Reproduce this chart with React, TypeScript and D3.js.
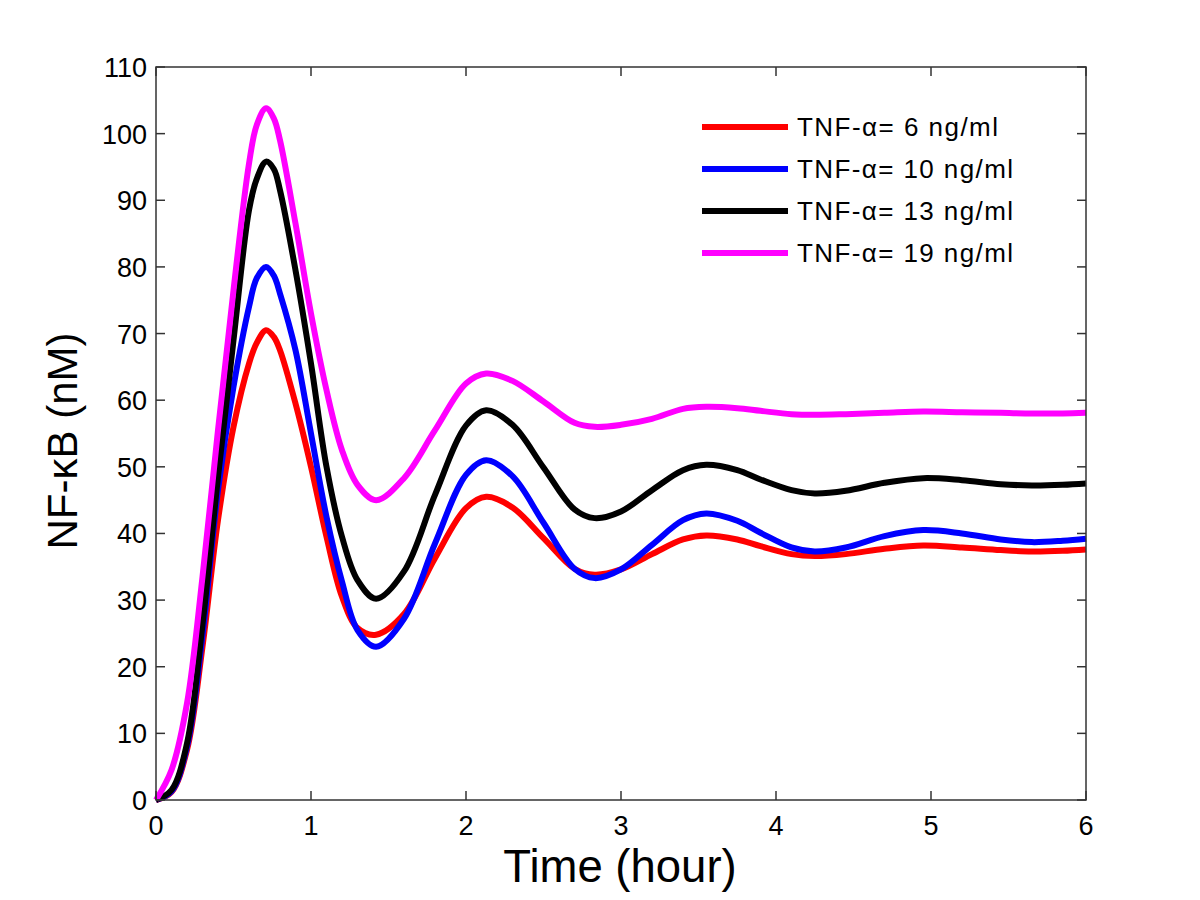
import * as d3 from 'd3'
import { useRef, useEffect } from 'react'

const W = 1200, H = 900
const M = { top: 67, right: 114, bottom: 100, left: 156 }

// time grid (hour), shared by all series
const times = [0, 0.1, 0.2, 0.3, 0.4, 0.5, 0.6, 0.65, 0.71, 0.76, 0.8, 0.9, 1.0, 1.1, 1.2, 1.3, 1.42,
  1.6, 1.8, 2.0, 2.13, 2.3, 2.5, 2.7, 2.83, 3.0, 3.2, 3.4, 3.55, 3.75, 3.9, 4.1, 4.25,
  4.45, 4.7, 4.95, 5.2, 5.45, 5.65, 5.85, 6.0]

// NF-kB (nM)
const tnf6 = [0, 1.2, 7.5, 23, 42, 56, 65.5, 68.6, 70.5, 69.5, 67.5, 59.5, 50, 39.5, 30.5, 25.8, 24.8,
  27.9, 36.3, 43.8, 45.5, 43.9, 39.3, 34.7, 33.8, 34.6, 36.9, 39.1, 39.7, 39.1, 38.1, 36.9, 36.6,
  36.9, 37.7, 38.2, 37.9, 37.5, 37.3, 37.4, 37.6]
const tnf10 = [0, 1.3, 8, 24.7, 46.5, 62, 74, 78.3, 80, 78.7, 76, 67.5, 55, 42.5, 32.8, 25.5, 23,
  27.2, 38.5, 48.8, 51, 48.6, 41.6, 34.7, 33.3, 34.6, 38.3, 42, 43, 41.9, 40.1, 37.9, 37.3,
  37.9, 39.6, 40.5, 40.0, 39.1, 38.7, 38.9, 39.2]
const tnf13 = [0, 1.5, 8.5, 26.3, 48.5, 69, 88.5, 93.2, 95.8, 94.7, 91.5, 79.5, 65.5, 50, 39.5, 33, 30.2,
  34.3, 45.8, 56.2, 58.5, 56.3, 49.9, 43.6, 42.3, 43.3, 46.5, 49.5, 50.3, 49.5, 48.1, 46.5, 46,
  46.4, 47.6, 48.3, 48.0, 47.4, 47.2, 47.3, 47.5]
const tnf19 = [0, 4.5, 14.5, 33.5, 55.5, 76.5, 95.5, 101.3, 103.8, 102.3, 99, 86.5, 73, 61.5, 52.5, 47.3, 45,
  48.3, 55.5, 62.5, 64, 62.9, 59.8, 56.6, 56, 56.3, 57.2, 58.7, 59, 58.8, 58.4, 57.9, 57.8,
  57.9, 58.1, 58.3, 58.2, 58.1, 58.0, 58.0, 58.1]

const seriesNames = ['TNF-α= 6 ng/ml', 'TNF-α= 10 ng/ml', 'TNF-α= 13 ng/ml', 'TNF-α= 19 ng/ml']
const seriesValues = [tnf6, tnf10, tnf13, tnf19]
const seriesColors = ['#ff0000', '#0000ff', '#000000', '#ff00ff']

const xTicks = [0, 1, 2, 3, 4, 5, 6]
const yTicks = [0, 10, 20, 30, 40, 50, 60, 70, 80, 90, 100, 110]

export default function App() {
  const svgRef = useRef<SVGSVGElement>(null)

  useEffect(() => {
    document.body.style.margin = '0'
    const svg = d3.select(svgRef.current)
    svg.selectAll('*').remove()

    const x = d3.scaleLinear().domain([0, 6]).range([M.left, W - M.right])
    const y = d3.scaleLinear().domain([0, 110]).range([H - M.bottom, M.top])
    const font = 'Arial, "Liberation Sans", sans-serif'
    const axisColor = '#333'

    const line = d3.line<number>()
      .x((_, i) => x(times[i]))
      .y(d => y(d))
      .curve(d3.curveCatmullRom.alpha(0.5))

    // draw 6 first, then 10, 13, 19 on top
    seriesValues.forEach((vals, k) => {
      svg.append('path').datum(vals)
        .attr('d', line)
        .attr('fill', 'none')
        .attr('stroke', seriesColors[k])
        .attr('stroke-width', 6)
        .attr('stroke-linejoin', 'round')
    })

    // box
    svg.append('rect')
      .attr('x', x(0)).attr('y', y(110))
      .attr('width', x(6) - x(0)).attr('height', y(0) - y(110))
      .attr('fill', 'none').attr('stroke', axisColor).attr('stroke-width', 1.5)

    const tl = 9
    // x ticks (bottom and top, pointing in)
    xTicks.forEach(t => {
      svg.append('line').attr('x1', x(t)).attr('x2', x(t)).attr('y1', y(0)).attr('y2', y(0) - tl)
        .attr('stroke', axisColor).attr('stroke-width', 1.5)
      svg.append('line').attr('x1', x(t)).attr('x2', x(t)).attr('y1', y(110)).attr('y2', y(110) + tl)
        .attr('stroke', axisColor).attr('stroke-width', 1.5)
      svg.append('text').attr('x', x(t)).attr('y', y(0) + 35)
        .attr('text-anchor', 'middle').attr('font-family', font).attr('font-size', 27)
        .text(t)
    })

    // y ticks (left and right, pointing in)
    yTicks.forEach(v => {
      svg.append('line').attr('x1', x(0)).attr('x2', x(0) + tl).attr('y1', y(v)).attr('y2', y(v))
        .attr('stroke', axisColor).attr('stroke-width', 1.5)
      svg.append('line').attr('x1', x(6)).attr('x2', x(6) - tl).attr('y1', y(v)).attr('y2', y(v))
        .attr('stroke', axisColor).attr('stroke-width', 1.5)
      svg.append('text').attr('x', x(0) - 9).attr('y', y(v) + 10)
        .attr('text-anchor', 'end').attr('font-family', font).attr('font-size', 27)
        .text(v)
    })

    // axis labels
    svg.append('text').attr('x', 620).attr('y', 882)
      .attr('text-anchor', 'middle').attr('font-family', font).attr('font-size', 45.5)
      .text('Time (hour)')

    const ly = 441
    svg.append('text').attr('x', 77).attr('y', ly)
      .attr('text-anchor', 'middle').attr('font-family', font).attr('font-size', 42)
      .attr('transform', `rotate(-90, 77, ${ly})`)
      .text('NF-κB (nM)')

    // legend
    seriesNames.forEach((name, k) => {
      const yy = 127 + k * 42
      svg.append('line').attr('x1', 702).attr('x2', 788).attr('y1', yy).attr('y2', yy)
        .attr('stroke', seriesColors[k]).attr('stroke-width', 6)
      svg.append('text').attr('x', 797).attr('y', yy + 9)
        .attr('font-family', font).attr('font-size', 26)
        .attr('textLength', k === 0 ? 201 : 216).attr('lengthAdjust', 'spacing')
        .text(name)
    })
  }, [])

  return <svg ref={svgRef} width={W} height={H} style={{ display: 'block', background: '#fff' }} />
}
